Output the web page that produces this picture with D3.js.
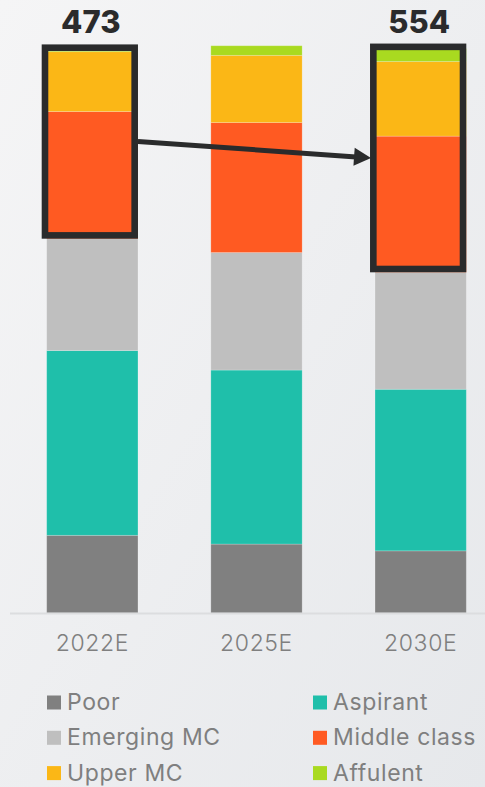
<!DOCTYPE html>
<html>
<head>
<meta charset="utf-8">
<script src="https://cdn.jsdelivr.net/npm/d3@7"></script>
<style>
  html, body { margin: 0; padding: 0; }
  body { width: 485px; height: 787px; overflow: hidden; }
  svg { display: block; }
</style>
</head>
<body>
<svg id="chart" width="485" height="787"></svg>
<script>
// Household segments by year (share of households, %)
const years = ["2022E", "2025E", "2030E"];
const segments = ["Poor", "Aspirant", "Emerging MC", "Middle class", "Upper MC", "Affulent"];
const poor        = [13.75, 12.2, 11.0];
const aspirant    = [32.7, 30.8, 28.6];
const emergingMC  = [19.8, 20.8, 20.7];
const middleClass = [22.5, 23.0, 24.1];
const upperMC     = [10.6, 11.9, 13.2];
const affluent    = [0.4, 1.7, 2.3];
// Totals called out above the highlighted bars
const calloutYears = ["2022E", "2030E"];
const calloutValues = [473, 554];

const colors = ["#808080", "#1fbfaa", "#bfbfbf", "#ff5a22", "#fbb716", "#a9da20"];

const seriesValues = [poor, aspirant, emergingMC, middleClass, upperMC, affluent];
const rows = years.map((yr, i) => {
  const r = { year: yr };
  segments.forEach((s, k) => { r[s] = seriesValues[k][i]; });
  return r;
});

const svg = d3.select("#chart");
const W = 485, H = 787;

// background wash
const defs = svg.append("defs");
const grad = defs.append("linearGradient").attr("id", "bg")
  .attr("x1", "0").attr("y1", "0").attr("x2", "1").attr("y2", "1");
grad.append("stop").attr("offset", "0%").attr("stop-color", "#f5f5f6");
grad.append("stop").attr("offset", "100%").attr("stop-color", "#e6e8eb");
svg.append("rect").attr("width", W).attr("height", H).attr("fill", "url(#bg)");

const x = d3.scaleBand().domain(years).range([10, 503])
  .paddingInner(0.444).paddingOuter(0.2235);
const y = d3.scaleLinear().domain([0, 100]).range([613, 48]);

const stack = d3.stack().keys(segments)(rows);

const g = svg.append("g");
g.selectAll("g.series").data(stack).join("g")
  .attr("class", "series")
  .attr("fill", (d, i) => colors[i])
  .selectAll("rect").data(d => d).join("rect")
  .attr("x", d => x(d.data.year))
  .attr("width", x.bandwidth())
  .attr("y", d => y(d[1]))
  .attr("height", d => y(d[0]) - y(d[1]))
  .attr("stroke", "#ffffff")
  .attr("stroke-opacity", 0.25)
  .attr("stroke-width", 0.8);

// baseline
svg.append("line")
  .attr("x1", 10).attr("x2", W)
  .attr("y1", y(0) + 0.5).attr("y2", y(0) + 0.5)
  .attr("stroke", "#dcdddf").attr("stroke-width", 2);

// category axis
const axis = svg.append("g")
  .attr("transform", `translate(0,${y(0)})`)
  .call(d3.axisBottom(x).tickSize(0).tickPadding(22));
axis.select(".domain").remove();
axis.selectAll("text")
  .attr("font-family", "Inter, 'Noto Sans', sans-serif")
  .attr("font-weight", 300)
  .attr("font-size", 23)
  .attr("letter-spacing", 0.6)
  .attr("fill", "#7f7f7f")
  .attr("dy", "0.71em");

// highlight boxes around the middle-class-and-above segments
const stroke = 6.6;
const boxes = calloutYears.map((yr, i) => {
  const idx = years.indexOf(yr);
  const top = stack[stack.length - 1][idx][1];
  const midBottom = stack[3][idx][0];
  const x0 = x(yr) - 5, x1 = x(yr) + x.bandwidth();
  const y0 = y(top) - 5, y1 = y(midBottom);
  return { yr, value: calloutValues[i], x0, x1, y0, y1 };
});

svg.selectAll("rect.box").data(boxes).join("rect")
  .attr("class", "box")
  .attr("x", d => d.x0 + stroke / 2)
  .attr("y", d => d.y0 + stroke / 2)
  .attr("width", d => d.x1 - d.x0 - stroke)
  .attr("height", d => d.y1 - d.y0 - stroke)
  .attr("fill", "none")
  .attr("stroke", "#2a2b2c")
  .attr("stroke-width", stroke);

svg.selectAll("text.callout").data(boxes).join("text")
  .attr("class", "callout")
  .attr("x", d => (d.x0 + d.x1) / 2 + 1)
  .attr("y", 33)
  .attr("text-anchor", "middle")
  .attr("font-family", "Inter, 'Noto Sans', sans-serif")
  .attr("font-weight", 800)
  .attr("font-size", 31)
  .attr("fill", "#2a2b2c")
  .text(d => d.value);

// arrow linking the two highlighted groups
const a = boxes[0], b = boxes[1];
const ax = a.x1, ay = (a.y0 + a.y1) / 2;
const bx = b.x0 + 1, by = (b.y0 + b.y1) / 2;
const ang = Math.atan2(by - ay, bx - ax);
const headLen = 17, headHalf = 9;
const hx = bx - headLen * Math.cos(ang), hy = by - headLen * Math.sin(ang);
svg.append("line")
  .attr("x1", ax).attr("y1", ay)
  .attr("x2", hx + 2 * Math.cos(ang)).attr("y2", hy + 2 * Math.sin(ang))
  .attr("stroke", "#2a2b2c").attr("stroke-width", 5);
svg.append("path")
  .attr("d", d3.line()([
    [bx, by],
    [hx - headHalf * Math.sin(ang), hy + headHalf * Math.cos(ang)],
    [hx + headHalf * Math.sin(ang), hy - headHalf * Math.cos(ang)]
  ]) + "Z")
  .attr("fill", "#2a2b2c");

// legend, two columns
const legend = svg.append("g");
const items = legend.selectAll("g").data(segments).join("g")
  .attr("transform", (d, i) => `translate(${i % 2 === 0 ? 47 : 313},${695.5 + Math.floor(i / 2) * 35.3})`);
items.append("rect")
  .attr("width", 14).attr("height", 14)
  .attr("fill", (d, i) => colors[i]);
items.append("text")
  .attr("x", 20).attr("y", 14.5)
  .attr("font-family", "Inter, 'Noto Sans', sans-serif")
  .attr("font-weight", 400)
  .attr("font-size", 23)
  .attr("letter-spacing", 0.6)
  .attr("fill", "#7f7f7f")
  .text(d => d);
</script>
</body>
</html>
